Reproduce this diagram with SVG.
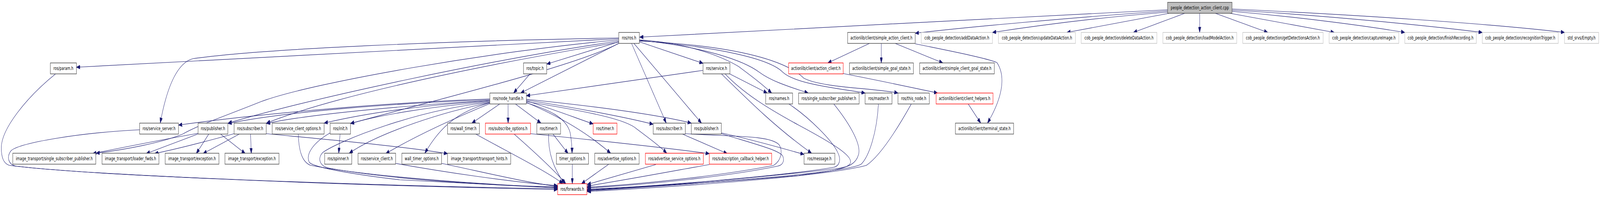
<svg xmlns="http://www.w3.org/2000/svg" width="6131" height="504" viewBox="0 0 6131 504" preserveAspectRatio="none" style="width:100vw;height:100vh;display:block">
<style>
rect{fill:#ffffff;stroke:#404040;stroke-width:1.4}
.r rect{stroke:#ff0000}
.g rect{stroke:#bfbfbf}
.root rect{fill:#bfbfbf}
text{font-family:"DejaVu Sans","Liberation Sans",sans-serif;font-size:12.7px;fill:#000000;text-anchor:middle}
#edges path{fill:none;stroke:#191970;stroke-width:1.2;marker-end:url(#a)}
</style>
<defs>
<marker id="a" viewBox="0 0 14 10" refX="14" refY="5" markerWidth="14" markerHeight="10" markerUnits="userSpaceOnUse" orient="auto">
<path d="M0,0 L14,5 L0,10 z" fill="#191970" stroke="#191970"/>
</marker>
</defs>
<rect x="0" y="0" width="6131" height="504" style="fill:#ffffff;stroke:none"/>
<g id="edges">
<path d="M4474,25 C3900,42 3000,78 2451,95"/>
<path d="M4474,28 C4100,45 3700,70 3507,85"/>
<path d="M4476,31 C4200,45 3950,68 3803,83"/>
<path d="M4480,34 L4088,83"/>
<path d="M4540,34 L4343,83"/>
<path d="M4597,34 L4597,83"/>
<path d="M4657,34 L4858,83"/>
<path d="M4713,34 L5113,83"/>
<path d="M4721,29 C5000,45 5250,68 5383,83"/>
<path d="M4721,26 C5100,40 5500,68 5680,83"/>
<path d="M4721,23 C5200,38 5700,60 5995,83"/>
<path d="M2371,99 L293,172"/>
<path d="M2371,97 C1700,105 1000,125 740,150 C680,160 640,220 614,315"/>
<path d="M2371,102 C1900,130 1200,210 1000,260 C850,300 760,320 700,343 C620,365 480,383 368,392"/>
<path d="M2371,105 C1900,150 1200,250 874,315"/>
<path d="M2371,108 C1900,160 1300,240 1021,315"/>
<path d="M2371,111 C2200,170 1700,250 1343,316"/>
<path d="M2371,107 L2095,164"/>
<path d="M2371,111 L1995,238"/>
<path d="M2450,107 L2694,162"/>
<path d="M2420,111 L2553,315"/>
<path d="M2429,111 L2688,315"/>
<path d="M2450,102 C2650,110 2780,150 2830,170 C2880,195 2920,215 2957,238"/>
<path d="M2450,103 C2700,120 2850,155 2910,185 C2960,210 3040,225 3097,238"/>
<path d="M2450,104 C2750,120 2950,150 3000,185 C3050,215 3200,225 3315,238"/>
<path d="M2450,105 C2850,118 3020,160 3080,200 C3150,225 3350,225 3441,238"/>
<path d="M2793,188 L2940,238"/>
<path d="M2763,188 C2880,265 2980,330 3110,392"/>
<path d="M2777,188 C2850,240 2950,280 3060,320 C3200,370 3270,400 3258,418 C3245,436 3120,443 3060,449 C2700,470 2400,480 2250,486"/>
<path d="M2694,180 L2017,245"/>
<path d="M2031,189 L1968,238"/>
<path d="M1877,253 C1500,262 1000,290 684,320"/>
<path d="M1877,255 C1500,265 1100,285 874,316"/>
<path d="M1877,257 C1600,268 1200,290 1021,316"/>
<path d="M1877,258 C1600,270 1400,290 1242,315"/>
<path d="M1877,260 C1650,272 1450,295 1343,316"/>
<path d="M1877,263 C1700,285 1450,340 1338,392"/>
<path d="M1877,265 C1750,300 1600,345 1478,393"/>
<path d="M1877,262 C1600,280 1300,360 1237,390 C1215,405 1225,425 1260,430 C1500,460 1900,475 2137,478"/>
<path d="M1915,266 L1808,315"/>
<path d="M1877,263 C1760,285 1690,320 1628,392"/>
<path d="M1947,266 L1947,315"/>
<path d="M1975,266 L2073,315"/>
<path d="M2017,263 C2100,280 2170,300 2185,340 C2190,360 2192,375 2192,392"/>
<path d="M2017,262 C2150,300 2250,340 2340,392"/>
<path d="M2017,258 C2100,275 2200,300 2273,317"/>
<path d="M2017,260 C2250,285 2400,305 2440,330 C2490,355 2530,375 2555,392"/>
<path d="M2017,256 C2200,275 2400,300 2503,318"/>
<path d="M2017,254 C2250,270 2500,290 2649,315"/>
<path d="M759,341 C600,360 450,380 355,393"/>
<path d="M758,343 L560,393"/>
<path d="M800,343 L752,393"/>
<path d="M845,343 L940,393"/>
<path d="M897,342 C800,360 700,378 592,393"/>
<path d="M917,343 L778,393"/>
<path d="M960,343 L963,393"/>
<path d="M1020,342 C1300,360 1550,375 1715,393"/>
<path d="M535,332 C300,340 80,365 43,385 C25,400 30,420 60,425 C400,452 1500,476 2137,483"/>
<path d="M213,189 C100,250 5,330 5,378 C5,405 15,418 35,423 C300,446 1200,472 2137,485"/>
<path d="M1143,343 C1145,390 1160,415 1190,423 C1400,450 1800,470 2137,480"/>
<path d="M1265,340 C1200,365 1170,395 1185,415 C1200,430 1400,450 1532,460 C1800,470 2000,476 2137,481"/>
<path d="M1516,418 C1700,440 1950,465 2137,475"/>
<path d="M1692,418 C1850,440 2000,465 2137,477"/>
<path d="M1823,343 C1950,390 2100,440 2157,470"/>
<path d="M1970,343 C2050,390 2130,440 2168,470"/>
<path d="M2102,343 C2100,390 2120,430 2163,470"/>
<path d="M2119,343 L2177,393"/>
<path d="M1303,343 L1298,392"/>
<path d="M2193,420 L2193,470"/>
<path d="M2333,420 L2228,470"/>
<path d="M2513,421 L2250,472"/>
<path d="M2718,421 C2600,435 2400,460 2250,476"/>
<path d="M2626,342 C2800,350 2950,345 2985,370 C3000,385 2995,410 2965,423 C2800,445 2500,470 2250,479"/>
<path d="M2764,342 C2900,370 2990,385 3000,400 C3008,415 2995,423 2980,425 C2800,450 2500,472 2250,481"/>
<path d="M2764,340 C2900,360 3000,380 3081,395"/>
<path d="M2615,343 L2787,393"/>
<path d="M2033,342 C2300,360 2550,378 2718,393"/>
<path d="M3023,266 C3100,300 3190,360 3210,390 C3225,410 3215,425 3195,428 C3000,450 2500,478 2250,484"/>
<path d="M3195,266 C3260,320 3300,370 3290,395 C3280,420 3250,428 3200,432 C2900,455 2500,478 2250,487"/>
<path d="M3366,266 C3360,340 3330,400 3300,420 C3250,440 2800,465 2250,488"/>
<path d="M3492,266 C3430,340 3370,400 3320,423 C3200,445 2800,470 2250,490"/>
<path d="M3710,266 L3758,315"/>
<path d="M3507,112 C3600,125 3780,148 3820,160 C3850,190 3850,240 3784,315"/>
<path d="M3332,111 L3172,161"/>
<path d="M3377,111 L3377,161"/>
<path d="M3430,111 L3613,161"/>
<path d="M3230,188 C3400,210 3500,225 3593,238"/>
</g>
<g id="n_root" class="root"><rect x="4474" y="6" width="247" height="28"/><text x="4597.5" y="24">people_detection_action_client.cpp</text></g>
<g id="n_ros_h"><rect x="2371" y="83" width="79" height="28"/><text x="2410.5" y="101">ros/ros.h</text></g>
<g id="n_sac"><rect x="3248" y="83" width="259" height="28"/><text x="3377.5" y="101">actionlib/client/simple_action_client.h</text></g>
<g id="n_add" class="g"><rect x="3530" y="83" width="273" height="28"/><text x="3666.5" y="101">cob_people_detection/addDataAction.h</text></g>
<g id="n_upd" class="g"><rect x="3826" y="83" width="295" height="28"/><text x="3973.5" y="101">cob_people_detection/updateDataAction.h</text></g>
<g id="n_del" class="g"><rect x="4143" y="83" width="290" height="28"/><text x="4288" y="101">cob_people_detection/deleteDataAction.h</text></g>
<g id="n_load" class="g"><rect x="4456" y="83" width="283" height="28"/><text x="4597.5" y="101">cob_people_detection/loadModelAction.h</text></g>
<g id="n_getdet" class="g"><rect x="4762" y="83" width="308" height="28"/><text x="4916" y="101">cob_people_detection/getDetectionsAction.h</text></g>
<g id="n_capture" class="g"><rect x="5093" y="83" width="267" height="28"/><text x="5226.5" y="101">cob_people_detection/captureImage.h</text></g>
<g id="n_finish" class="g"><rect x="5383" y="83" width="274" height="28"/><text x="5520" y="101">cob_people_detection/finishRecording.h</text></g>
<g id="n_recog" class="g"><rect x="5680" y="83" width="291" height="28"/><text x="5825.5" y="101">cob_people_detection/recognitionTrigger.h</text></g>
<g id="n_empty" class="g"><rect x="5995" y="83" width="131" height="28"/><text x="6060.5" y="101">std_srvs/Empty.h</text></g>
<g id="n_param"><rect x="193" y="161" width="100" height="28"/><text x="243" y="179">ros/param.h</text></g>
<g id="n_topic"><rect x="2006" y="161" width="89" height="28"/><text x="2050.5" y="179">ros/topic.h</text></g>
<g id="n_service"><rect x="2694" y="161" width="103" height="28"/><text x="2745.5" y="179">ros/service.h</text></g>
<g id="n_action_client" class="r"><rect x="3022" y="161" width="209" height="28"/><text x="3126.5" y="179">actionlib/client/action_client.h</text></g>
<g id="n_sgs"><rect x="3255" y="161" width="245" height="28"/><text x="3377.5" y="179">actionlib/client/simple_goal_state.h</text></g>
<g id="n_scgs"><rect x="3524" y="161" width="286" height="28"/><text x="3667" y="179">actionlib/client/simple_client_goal_state.h</text></g>
<g id="n_node_handle"><rect x="1877" y="238" width="140" height="28"/><text x="1947" y="256">ros/node_handle.h</text></g>
<g id="n_names"><rect x="2934" y="238" width="103" height="28"/><text x="2985.5" y="256">ros/names.h</text></g>
<g id="n_rssp"><rect x="3060" y="238" width="232" height="28"/><text x="3176" y="256">ros/single_subscriber_publisher.h</text></g>
<g id="n_master"><rect x="3315" y="238" width="103" height="28"/><text x="3366.5" y="256">ros/master.h</text></g>
<g id="n_this_node"><rect x="3441" y="238" width="120" height="28"/><text x="3501" y="256">ros/this_node.h</text></g>
<g id="n_client_helpers" class="r"><rect x="3587" y="238" width="218" height="28"/><text x="3696" y="256">actionlib/client/client_helpers.h</text></g>
<g id="n_service_server"><rect x="535" y="315" width="149" height="28"/><text x="609.5" y="333">ros/service_server.h</text></g>
<g id="n_pub1"><rect x="759" y="315" width="114" height="28"/><text x="816" y="333">ros/publisher.h</text></g>
<g id="n_sub1"><rect x="897" y="315" width="123" height="28"/><text x="958.5" y="333">ros/subscriber.h</text></g>
<g id="n_sco"><rect x="1043" y="315" width="199" height="28"/><text x="1142.5" y="333">ros/service_client_options.h</text></g>
<g id="n_init"><rect x="1265" y="315" width="78" height="28"/><text x="1304" y="333">ros/init.h</text></g>
<g id="n_wall_timer"><rect x="1715" y="315" width="122" height="28"/><text x="1776" y="333">ros/wall_timer.h</text></g>
<g id="n_subopt" class="r"><rect x="1860" y="315" width="173" height="28"/><text x="1946.5" y="333">ros/subscribe_options.h</text></g>
<g id="n_timer1"><rect x="2057" y="315" width="91" height="28"/><text x="2102.5" y="333">ros/timer.h</text></g>
<g id="n_timer2" class="r"><rect x="2273" y="315" width="91" height="28"/><text x="2318.5" y="333">ros/timer.h</text></g>
<g id="n_sub2"><rect x="2503" y="315" width="123" height="28"/><text x="2564.5" y="333">ros/subscriber.h</text></g>
<g id="n_pub2"><rect x="2649" y="315" width="115" height="28"/><text x="2706.5" y="333">ros/publisher.h</text></g>
<g id="n_terminal"><rect x="3661" y="315" width="223" height="28"/><text x="3772.5" y="333">actionlib/client/terminal_state.h</text></g>
<g id="n_itssp"><rect x="49" y="392" width="318" height="28"/><text x="208" y="410">image_transport/single_subscriber_publisher.h</text></g>
<g id="n_loader"><rect x="391" y="392" width="218" height="28"/><text x="500" y="410">image_transport/loader_fwds.h</text></g>
<g id="n_exc1"><rect x="633" y="392" width="206" height="28"/><text x="736" y="410">image_transport/exception.h</text></g>
<g id="n_exc2"><rect x="862" y="392" width="207" height="28"/><text x="965.5" y="410">image_transport/exception.h</text></g>
<g id="n_spinner"><rect x="1244" y="392" width="104" height="28"/><text x="1296" y="410">ros/spinner.h</text></g>
<g id="n_service_client"><rect x="1372" y="392" width="144" height="28"/><text x="1444" y="410">ros/service_client.h</text></g>
<g id="n_wto"><rect x="1540" y="392" width="152" height="28"/><text x="1616" y="410">wall_timer_options.h</text></g>
<g id="n_hints"><rect x="1715" y="392" width="242" height="28"/><text x="1836" y="410">image_transport/transport_hints.h</text></g>
<g id="n_to"><rect x="2132" y="392" width="123" height="28"/><text x="2193.5" y="410">timer_options.h</text></g>
<g id="n_advopt"><rect x="2279" y="392" width="170" height="28"/><text x="2364" y="410">ros/advertise_options.h</text></g>
<g id="n_advsrv" class="r"><rect x="2473" y="392" width="222" height="28"/><text x="2584" y="410">ros/advertise_service_options.h</text></g>
<g id="n_sch" class="r"><rect x="2718" y="392" width="239" height="28"/><text x="2837.5" y="410">ros/subscription_callback_helper.h</text></g>
<g id="n_message"><rect x="3081" y="392" width="118" height="28"/><text x="3140" y="410">ros/message.h</text></g>
<g id="n_forwards" class="r"><rect x="2137" y="470" width="112" height="28"/><text x="2193" y="488">ros/forwards.h</text></g>
</svg>
